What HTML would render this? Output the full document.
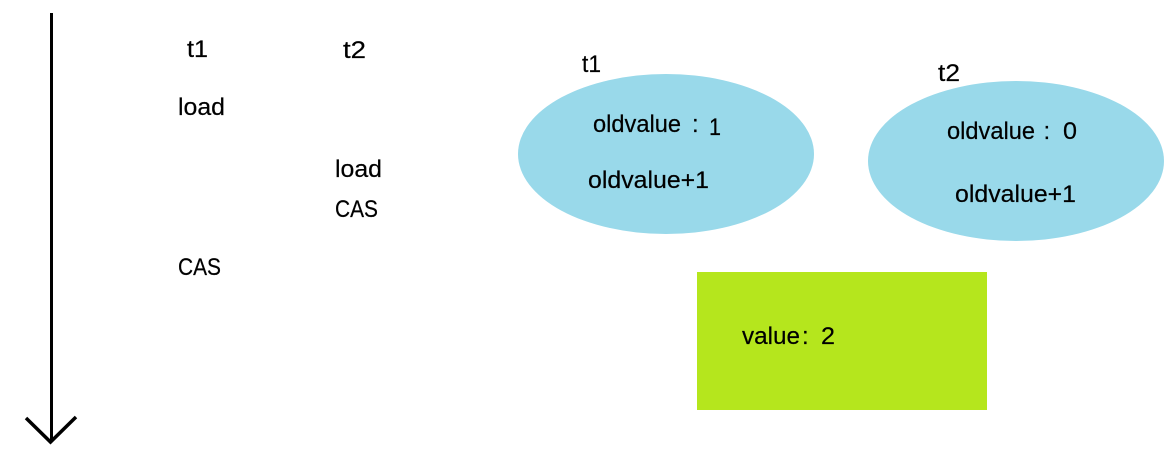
<!DOCTYPE html>
<html>
<head>
<meta charset="utf-8">
<style>
html,body{margin:0;padding:0;background:#fff;width:1172px;height:461px;overflow:hidden}
svg{display:block}
text{font-family:"Liberation Sans","Noto Sans CJK SC",sans-serif;font-size:24px;fill:#000;stroke:#000;stroke-width:.2px}
</style>
</head>
<body>
<svg width="1172" height="461" viewBox="0 0 1172 461" xmlns="http://www.w3.org/2000/svg">
<rect width="1172" height="461" fill="#fff"/>
<line x1="51.500" y1="13" x2="51.500" y2="442" stroke="#000" stroke-width="3"/>
<polyline points="26,418 50.500,442 76,417" fill="none" stroke="#000" stroke-width="3.500"/>
<ellipse cx="666" cy="154" rx="148" ry="80" fill="#99D9EA"/>
<ellipse cx="1016" cy="161" rx="148" ry="80" fill="#99D9EA"/>
<rect x="697" y="272" width="290" height="138" fill="#B5E61D"/>

<text x="187" y="57" textLength="21" lengthAdjust="spacingAndGlyphs">t1</text>
<text x="343" y="58" textLength="23" lengthAdjust="spacingAndGlyphs">t2</text>
<text x="178" y="115" textLength="47" lengthAdjust="spacingAndGlyphs">load</text>
<text x="335" y="177" textLength="47" lengthAdjust="spacingAndGlyphs">load</text>
<text x="335" y="217" textLength="43" lengthAdjust="spacingAndGlyphs">CAS</text>
<text x="178" y="275" textLength="43" lengthAdjust="spacingAndGlyphs">CAS</text>

<text x="582" y="72" textLength="19" lengthAdjust="spacingAndGlyphs">t1</text>
<text x="593" y="132" textLength="88" lengthAdjust="spacingAndGlyphs">oldvalue</text>
<text x="692" y="132">:</text>
<text x="709" y="135" textLength="12" lengthAdjust="spacingAndGlyphs">1</text>
<text x="588" y="188" textLength="121" lengthAdjust="spacingAndGlyphs">oldvalue+1</text>

<text x="938" y="81" textLength="22" lengthAdjust="spacingAndGlyphs">t2</text>
<text x="947" y="139" textLength="88" lengthAdjust="spacingAndGlyphs">oldvalue</text>
<text x="1043.500" y="139">:</text>
<text x="1063" y="139" textLength="14" lengthAdjust="spacingAndGlyphs">0</text>
<text x="955" y="202" textLength="121" lengthAdjust="spacingAndGlyphs">oldvalue+1</text>

<text x="742" y="344" textLength="58" lengthAdjust="spacingAndGlyphs">value</text>
<text x="802" y="344">:</text>
<text x="821" y="344" textLength="14" lengthAdjust="spacingAndGlyphs">2</text>
</svg>
</body>
</html>
